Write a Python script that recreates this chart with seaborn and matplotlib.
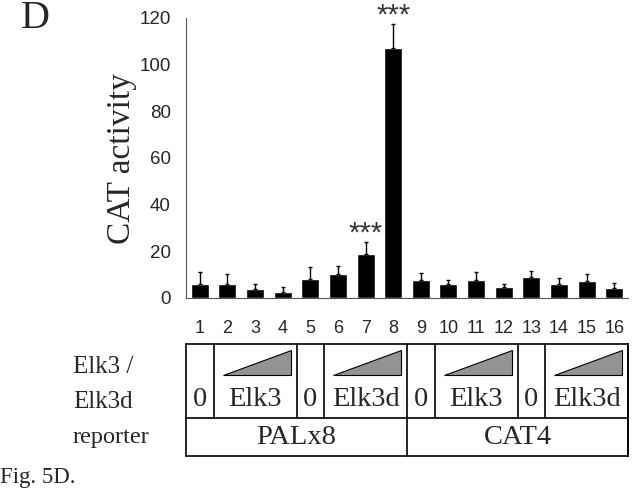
import matplotlib
matplotlib.use('Agg')
import numpy as np
import pandas as pd
import matplotlib.pyplot as plt
import seaborn as sns
from matplotlib.transforms import blended_transform_factory
from matplotlib.patches import Polygon

# values
lanes = [str(i) for i in range(1, 17)]
activity = [6.2, 6.1, 4.0, 2.6, 8.3, 10.4, 19.0, 107.0, 7.7, 6.2, 7.7, 4.7, 8.8, 6.2, 7.3, 4.5]
err_up = [4.8, 4.4, 2.0, 2.0, 4.8, 3.4, 5.2, 10.6, 3.0, 1.4, 3.3, 1.4, 2.6, 2.5, 3.0, 1.9]
stars = ['', '', '', '', '', '', '***', '***', '', '', '', '', '', '', '', '']

# lane table under the axis
elk_cells = [(1, '0', False), (3, 'Elk3', True), (1, '0', False), (3, 'Elk3d', True),
             (1, '0', False), (3, 'Elk3', True), (1, '0', False), (3, 'Elk3d', True)]
reporter_cells = [(8, 'PALx8'), (8, 'CAT4')]

df = pd.DataFrame({'lane': lanes, 'activity': activity})

sns.set_style('white')
serif = ['Liberation Serif', 'DejaVu Serif']
sans = ['Liberation Sans', 'DejaVu Sans']
plt.rcParams['font.family'] = sans

W, H = 632, 492
fig = plt.figure(figsize=(W / 100, H / 100), dpi=100)
ax = fig.add_axes([186 / W, 1 - 298 / H, (628 - 186) / W, (298 - 18) / H])

sns.barplot(data=df, x='lane', y='activity', color='black', saturation=1,
            width=0.65, ax=ax, errorbar=None)
x = np.arange(len(lanes))
ax.errorbar(x, activity, yerr=[np.zeros(len(x)), err_up], fmt='none',
            ecolor='black', elinewidth=1, capsize=1.6, capthick=1, clip_on=False)
for xi, a, e, s in zip(x, activity, err_up, stars):
    if s:
        ax.annotate(s, (xi, a + e), xytext=(0, 0), textcoords='offset points',
                    ha='center', va='baseline', fontsize=21, color='#333333',
                    annotation_clip=False)

ax.set_xlim(-0.5, 15.5)
ax.set_ylim(0, 120)
ax.set_yticks(range(0, 121, 20))
ax.tick_params(axis='y', length=5, width=0.8, color='#555555', labelsize=13.5, pad=6)
ax.set_xticks(x)
ax.set_xticklabels(lanes)
ax.tick_params(axis='x', length=0, labelsize=13, pad=16)
ax.set_xticks(np.arange(-0.5, 16, 1), minor=True)
ax.tick_params(axis='x', which='minor', length=5, width=0.8, color='#555555')
ax.set_xlabel('')
ax.set_ylabel('CAT activity', fontsize=24, family=serif)
ax.yaxis.set_label_coords(-0.111, 0.5)
for sp in ['top', 'right']:
    ax.spines[sp].set_visible(False)
for sp in ['left', 'bottom']:
    ax.spines[sp].set_color('#555555')
    ax.spines[sp].set_linewidth(0.8)

# table drawn in data x / figure y
tr = blended_transform_factory(ax.transData, fig.transFigure)
fy = lambda py: 1 - py / H
top, mid, bot = 344, 418, 456
lw = 1.2
left, right = -0.5, 15.5
for yy in (top, mid, bot):
    ax.plot([left, right], [fy(yy), fy(yy)], color='black', lw=lw, transform=tr, clip_on=False)
ax.plot([left, left], [fy(top), fy(bot)], color='black', lw=lw, transform=tr, clip_on=False)
ax.plot([right, right], [fy(top), fy(bot)], color='black', lw=lw, transform=tr, clip_on=False)

pos = left
for n, label, ramp in elk_cells:
    if ramp:
        tri = Polygon([(pos + 0.33, fy(375)), (pos + n - 0.2, fy(375)), (pos + n - 0.2, fy(350))],
                      closed=True, facecolor='#939393', edgecolor='black', lw=0.8,
                      transform=tr, clip_on=False)
        ax.add_patch(tri)
    ax.text(pos + n / 2, fy(399), label, transform=tr, ha='center', va='center',
            fontsize=20.5, family=serif)
    pos += n
    ax.plot([pos, pos], [fy(top), fy(mid)], color='black', lw=lw, transform=tr, clip_on=False)

pos = left
for n, label in reporter_cells:
    ax.text(pos + n / 2, fy(438), label, transform=tr, ha='center', va='center',
            fontsize=20.5, family=serif)
    pos += n
    ax.plot([pos, pos], [fy(mid), fy(bot)], color='black', lw=lw, transform=tr, clip_on=False)

fig.text(73 / W, fy(367), 'Elk3 /', ha='left', va='center', fontsize=18, family=serif)
fig.text(73 / W, fy(402), 'Elk3d', ha='left', va='center', fontsize=18, family=serif)
fig.text(73 / W, fy(437), 'reporter', ha='left', va='center', fontsize=17.5, family=serif)
fig.text(0 / W, fy(477), 'Fig. 5D.', ha='left', va='center', fontsize=16.5, family=serif)
fig.text(21 / W, fy(19), 'D', ha='left', va='center', fontsize=29, family=serif)

fig.savefig('out.png', dpi=100)
